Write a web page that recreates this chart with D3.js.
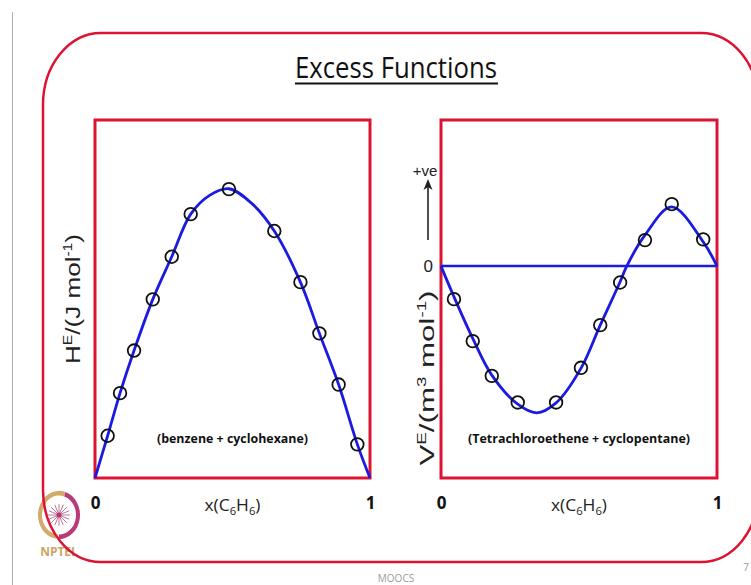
<!DOCTYPE html>
<meta charset="utf-8">
<head>
    <script src="https://d3js.org/d3.v7.min.js"></script>
    <style>
        body { margin: 0; background: #fff; font-family: "Open Sans", "Liberation Sans", sans-serif; }
        svg { display: block; }
    </style>
</head>
<body>
    <svg></svg>
    <script>

        // Data
        // benzene + cyclohexane, H^E (arbitrary units, 0..1000 box height)
        var heX = [0.046, 0.091, 0.142, 0.21, 0.279, 0.348, 0.487, 0.652, 0.747, 0.816, 0.886, 0.954];
        var heY = [118, 237, 356, 499, 618, 737, 807, 690, 547, 404, 261, 94];
        var heCurveX = [0, 0.046, 0.091, 0.142, 0.21, 0.279, 0.348, 0.418, 0.487, 0.57, 0.652, 0.747, 0.816, 0.886, 0.954, 1];
        var heCurveY = [0, 118, 237, 356, 499, 618, 737, 790, 808, 767, 690, 547, 404, 261, 94, 0];

        // tetrachloroethene + cyclopentane, V^E (arbitrary units)
        var veX = [0.047, 0.115, 0.184, 0.278, 0.417, 0.507, 0.577, 0.649, 0.739, 0.836, 0.95];
        var veY = [-0.226, -0.513, -0.751, -0.933, -0.933, -0.696, -0.404, -0.112, 0.178, 0.424, 0.183];
        var veCurveX = [0, 0.047, 0.115, 0.184, 0.278, 0.347, 0.417, 0.507, 0.577, 0.649, 0.673, 0.739, 0.836, 0.95, 1];
        var veCurveY = [0, -0.21, -0.495, -0.746, -0.945, -1.004, -0.936, -0.7, -0.404, -0.107, 0, 0.212, 0.406, 0.166, 0];

        var xTicks = [0, 1];
        var veTicks = [0];

        var width = 751;
        var height = 585;
        var red = "#dc1432";
        var blue = "#1a1ae0";

        var svg = d3.select('svg')
            .attr('width', width)
            .attr('height', height);

        // slide edge
        svg.append('line')
            .attr('x1', 12.5).attr('x2', 12.5).attr('y1', 12).attr('y2', height)
            .attr('stroke', '#b0b0b0').attr('stroke-width', 1);

        // NPTEL logo (rough)
        var logo = svg.append('g').attr('transform', 'translate(59,515)');
        logo.append('path')
            .attr('d', d3.arc()({innerRadius: 17, outerRadius: 21, startAngle: Math.PI * 1.05, endAngle: Math.PI * 2.1}))
            .attr('transform', 'scale(1,1.15)')
            .attr('fill', '#d4aa6a');
        logo.append('path')
            .attr('d', d3.arc()({innerRadius: 17, outerRadius: 21, startAngle: Math.PI * 0.1, endAngle: Math.PI * 1.0}))
            .attr('transform', 'scale(1,1.15)')
            .attr('fill', '#b83a78');
        d3.range(8).forEach(function (i) {
            var a = i * Math.PI / 8;
            logo.append('line')
                .attr('x1', -11 * Math.cos(a)).attr('y1', -11 * Math.sin(a))
                .attr('x2', 11 * Math.cos(a)).attr('y2', 11 * Math.sin(a))
                .attr('stroke', '#c07898').attr('stroke-width', 1);
        });
        logo.append('circle').attr('r', 2.5).attr('fill', '#c0306a');
        svg.append('text')
            .attr('x', 59).attr('y', 556)
            .attr('text-anchor', 'middle')
            .attr('font-size', 12).attr('font-weight', 'bold')
            .attr('fill', '#c9a464')
            .text('NPTEL');

        // outer rounded frame
        svg.append('rect')
            .attr('x', 43).attr('y', 33)
            .attr('width', 716).attr('height', 529)
            .attr('rx', 58).attr('ry', 72)
            .attr('fill', 'none')
            .attr('stroke', red).attr('stroke-width', 2.5);

        // title
        svg.append('text')
            .attr('x', 396).attr('y', 78)
            .attr('text-anchor', 'middle')
            .attr('font-size', 30)
            .attr('textLength', 202).attr('lengthAdjust', 'spacingAndGlyphs')
            .attr('fill', '#111')
            .text('Excess Functions');
        svg.append('line')
            .attr('x1', 295).attr('x2', 498).attr('y1', 83.5).attr('y2', 83.5)
            .attr('stroke', '#111').attr('stroke-width', 2);

        // scales
        var xL = d3.scaleLinear().domain([0, 1]).range([95, 370]);
        var yL = d3.scaleLinear().domain([0, 1000]).range([478, 120]);
        var xR = d3.scaleLinear().domain([0, 1]).range([441, 717]);
        var yR = d3.scaleLinear().domain([-1.45, 1]).range([478, 120]);

        var line = d3.line().curve(d3.curveCatmullRom.alpha(0.5));

        function panel(x, y, curveX, curveY, ptX, ptY, note, noteLen) {
            var g = svg.append('g');

            g.append('rect')
                .attr('x', x.range()[0]).attr('y', y.range()[1])
                .attr('width', x.range()[1] - x.range()[0])
                .attr('height', y.range()[0] - y.range()[1])
                .attr('fill', 'none')
                .attr('stroke', red).attr('stroke-width', 3);

            g.append('path')
                .attr('d', line(curveX.map(function (d, i) { return [x(d), y(curveY[i])]; })))
                .attr('fill', 'none')
                .attr('stroke', blue).attr('stroke-width', 2.8);

            g.selectAll('circle')
                .data(ptX)
                .enter().append('circle')
                .attr('cx', function (d) { return x(d); })
                .attr('cy', function (d, i) { return y(ptY[i]); })
                .attr('r', 6.3)
                .attr('fill', 'none')
                .attr('stroke', '#111').attr('stroke-width', 1.8);

            var ax = g.append('g')
                .attr('transform', 'translate(0,' + y.range()[0] + ')')
                .call(d3.axisBottom(x).tickValues(xTicks).tickSize(0).tickPadding(19).tickFormat(d3.format('d')));
            ax.select('.domain').remove();
            ax.selectAll('text')
                .attr('font-family', '"Open Sans", sans-serif')
                .attr('font-size', 17).attr('font-weight', 'bold')
                .attr('fill', '#111');

            var mid = (x.range()[0] + x.range()[1]) / 2;
            var xl = g.append('text')
                .attr('x', mid).attr('y', 511)
                .attr('text-anchor', 'middle')
                .attr('font-size', 17)
                .attr('textLength', 56).attr('lengthAdjust', 'spacingAndGlyphs')
                .attr('fill', '#222');
            xl.append('tspan').text('x(C');
            xl.append('tspan').attr('font-size', 11).attr('dy', 4).text('6');
            xl.append('tspan').attr('dy', -4).text('H');
            xl.append('tspan').attr('font-size', 11).attr('dy', 4).text('6');
            xl.append('tspan').attr('dy', -4).text(')');

            g.append('text')
                .attr('x', mid).attr('y', 443)
                .attr('text-anchor', 'middle')
                .attr('font-size', 12.5).attr('font-weight', 'bold')
                .attr('textLength', noteLen).attr('lengthAdjust', 'spacingAndGlyphs')
                .attr('fill', '#111')
                .text(note);
            return g;
        }

        panel(xL, yL, heCurveX, heCurveY, heX, heY, '(benzene + cyclohexane)', 151);
        var right = panel(xR, yR, veCurveX, veCurveY, veX, veY, '(Tetrachloroethene + cyclopentane)', 222);

        // zero line on the V^E panel
        right.insert('line', 'path')
            .attr('x1', xR(0)).attr('x2', xR(1))
            .attr('y1', yR(0)).attr('y2', yR(0))
            .attr('stroke', blue).attr('stroke-width', 2.5);

        var ay = right.append('g')
            .attr('transform', 'translate(' + xR(0) + ',0)')
            .call(d3.axisLeft(yR).tickValues(veTicks).tickSize(0).tickPadding(8).tickFormat(d3.format('d')));
        ay.select('.domain').remove();
        ay.selectAll('text')
            .attr('font-family', '"Liberation Sans", sans-serif')
            .attr('font-size', 17).attr('fill', '#222');

        // +ve arrow
        svg.append('line')
            .attr('x1', 428).attr('x2', 428).attr('y1', 240).attr('y2', 186)
            .attr('stroke', '#222').attr('stroke-width', 1.6);
        svg.append('path')
            .attr('d', 'M428,179 L432.5,190 L428,187 L423.5,190 Z')
            .attr('fill', '#222');
        svg.append('text')
            .attr('x', 425).attr('y', 176)
            .attr('text-anchor', 'middle')
            .attr('font-family', '"Liberation Sans", sans-serif')
            .attr('font-size', 15).attr('fill', '#222')
            .text('+ve');

        // y labels
        function yLabel(cx, cy, len, first, unit, power) {
            var t = svg.append('text')
                .attr('transform', 'translate(' + cx + ',' + cy + ')rotate(-90)')
                .attr('text-anchor', 'middle')
                .attr('font-family', '"Liberation Sans", sans-serif')
                .attr('font-size', 20).attr('fill', '#222')
                .attr('textLength', len).attr('lengthAdjust', 'spacingAndGlyphs');
            t.append('tspan').text(first);
            t.append('tspan').attr('font-size', 12).attr('dy', -8).text('E');
            t.append('tspan').attr('dy', 8).text('/(' + unit);
            if (power) {
                t.append('tspan').attr('font-size', 12).attr('dy', -8).text(power);
                t.append('tspan').attr('dy', 8).text(' mol');
            }
            t.append('tspan').attr('font-size', 12).attr('dy', -8).text('-1');
            t.append('tspan').attr('dy', 8).text(')');
        }
        yLabel(80, 299, 130, 'H', 'J mol', null);
        yLabel(434, 378, 175, 'V', 'm', '3');

        // footer
        svg.append('text')
            .attr('x', 396).attr('y', 582)
            .attr('text-anchor', 'middle')
            .attr('font-size', 10).attr('fill', '#9a9a9a')
            .text('MOOCS');
        svg.append('text')
            .attr('x', 746).attr('y', 571)
            .attr('text-anchor', 'middle')
            .attr('font-size', 10).attr('fill', '#9a9a9a')
            .text('7');

    </script>
</body>
</html>
